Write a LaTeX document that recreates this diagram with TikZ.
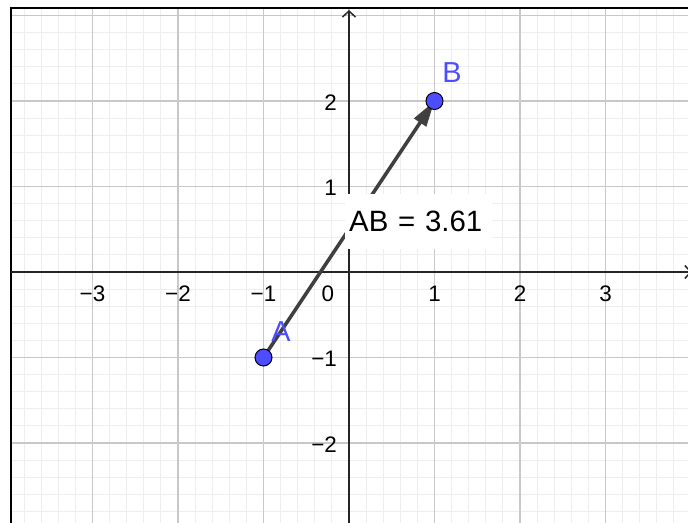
\documentclass[tikz,border=0pt]{standalone}
\usepackage{fontspec}
\setmainfont{Liberation Sans}
\usetikzlibrary{arrows.meta}
\definecolor{ptblue}{RGB}{77,77,255}
\definecolor{veccol}{RGB}{64,64,64}
\definecolor{majgrid}{RGB}{200,200,200}
\definecolor{mingrid}{RGB}{238,238,238}
\definecolor{axiscol}{RGB}{37,37,37}
\tikzset{
  mingridline/.style={draw=mingrid, line width=1bp},
  majgridline/.style={draw=majgrid, line width=1.4bp},
  frameline/.style={draw=black, line width=1.5bp},
  axisline/.style={draw=axiscol, line width=1.5bp, -{Straight Barb[length=6bp,width=13bp,line width=1.5bp]}},
  vecline/.style={draw=veccol, line width=3.6bp, -{Triangle[length=26bp,width=14bp]}},
  ptnode/.style={circle, fill=ptblue, draw=black, line width=1bp, minimum size=17bp, inner sep=0pt},
  ptlabel/.style={text=ptblue, font=\fontsize{29}{29}\selectfont, inner sep=0pt},
  ticklabel/.style={text=black, font=\fontsize{22.5}{22.5}\selectfont, inner sep=0pt},
  valbox/.style={fill=white, inner sep=0pt, minimum height=55bp, text width=147bp, align=left, font=\fontsize{29.5}{29.5}\selectfont},
}
\begin{document}
\begin{tikzpicture}[x=85.5bp,y=85.5bp]
\useasboundingbox (-4.0819,-2.9357) rectangle (3.9649,3.1813);
\clip (-4.0819,-2.9357) rectangle (3.9649,3.1813);
% grid
\draw[mingridline, step=0.2] (-3.953,-2.94) grid (3.97,3.088);
\draw[majgridline, step=1] (-3.953,-2.94) grid (3.97,3.088);
% frame
\coordinate (fbl) at (-3.953,-2.94);
\coordinate (ftl) at (-3.953,3.088);
\coordinate (ftr) at (3.97,3.088);
\draw[frameline] (fbl) -- (ftl) -- (ftr);
% axes
\coordinate (xs) at (-3.953,0);
\coordinate (xe) at (4.01,0);
\coordinate (ys) at (0,-2.94);
\coordinate (ye) at (0,3.064);
\draw[axisline] (xs) -- (xe);
\draw[axisline] (ys) -- (ye);
% tick labels
\foreach \k/\t in {-3/−3,-2/−2,-1/−1,1/1,2/2,3/3}
  \node[ticklabel] (xl\k) at (\k,-0.257) {\t};
\node[ticklabel] (xl0) at (-0.246,-0.257) {0};
\foreach \k/\t in {-2/−2,-1/−1,1/1,2/2}
  \node[ticklabel, anchor=east] (yl\k) at (-0.14,\k-0.02) {\t};
% vector
\coordinate (a) at (-1,-1);
\coordinate (b) at (1,2);
\draw[vecline] (a) -- (b);
% value box
\node[valbox, anchor=west] (AB) at (-0.047,0.591) {\hspace*{4bp}AB = 3.61};
% points
\node[ptnode] (A) at (a) {};
\node[ptnode] (B) at (b) {};
\node[ptlabel] (lA) at (-0.795,-0.702) {A};
\node[ptlabel] (lB) at (1.205,2.327) {B};
\end{tikzpicture}
\end{document}
